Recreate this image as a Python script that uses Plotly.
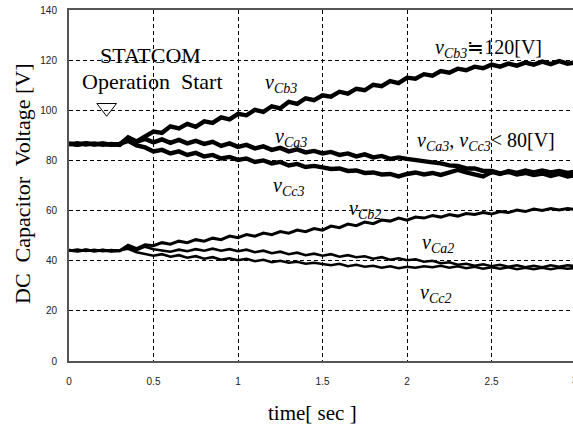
import numpy as np
import plotly.graph_objects as go

# time base [s], 50 ms sampling
time_s = np.round(np.arange(0, 3.0001, 0.05), 2)

# upper (3rd-level) capacitor voltages [V]
v_cb3 = [86.6, 86.2, 86.8, 86.3, 86.7, 86.2, 86.4, 89.2, 87.6, 89.8,
         91.5, 91.0, 93.6, 92.8, 94.6, 93.4, 95.6, 95.0, 97.2, 96.4,
         98.6, 98.0, 100.2, 99.4, 101.6, 100.8, 103.4, 102.6, 104.8, 104.0,
         106.0, 105.4, 107.4, 106.6, 108.6, 108.0, 110.2, 109.6, 111.6, 110.8,
         113.0, 112.6, 114.4, 113.8, 115.6, 115.0, 116.6, 116.0, 117.4, 116.8,
         118.2, 117.4, 118.6, 117.8, 119.0, 118.2, 119.4, 118.4, 119.6, 118.6,
         119.2]
v_ca3 = [86.4, 86.9, 86.3, 86.8, 86.2, 86.6, 86.2, 89.0, 87.4, 88.6,
         87.2, 88.4, 87.0, 88.2, 86.8, 87.8, 86.6, 87.4, 85.8, 86.8,
         85.4, 86.2, 84.8, 85.6, 84.2, 85.0, 83.6, 84.4, 83.2, 83.8,
         82.8, 83.4, 82.2, 82.8, 81.6, 82.4, 81.2, 81.8, 80.6, 81.2,
         80.6, 80.0, 79.8, 79.2, 78.8, 78.0, 77.8, 76.8, 76.8, 75.8,
         75.8, 74.8, 75.4, 74.4, 75.0, 74.2, 74.8, 73.8, 74.6, 73.6,
         74.2]
v_cc3 = [86.8, 86.3, 86.9, 86.4, 86.8, 86.3, 86.6, 87.8, 86.0, 85.2,
         83.6, 84.2, 82.8, 83.6, 82.2, 83.0, 81.6, 82.2, 80.8, 81.4,
         80.2, 80.8, 79.4, 80.0, 78.8, 79.4, 78.0, 78.6, 77.4, 77.8,
         77.2, 76.6, 76.8, 75.8, 76.0, 75.0, 75.2, 74.4, 74.6, 73.6,
         74.6, 75.2, 74.4, 75.0, 74.2, 75.4, 76.2, 75.2, 74.4, 73.6,
         75.4, 74.6, 75.8, 75.0, 76.0, 75.2, 76.0, 75.2, 75.8, 75.0,
         75.6]

# lower (2nd-level) capacitor voltages [V]
v_cb2 = [44.2, 43.8, 44.3, 43.9, 44.2, 43.8, 44.0, 46.2, 44.8, 46.4,
         46.0, 47.2, 46.6, 47.8, 47.2, 48.4, 47.8, 49.0, 48.4, 49.8,
         49.2, 50.4, 49.8, 51.0, 50.4, 51.6, 51.0, 52.2, 51.6, 52.8,
         52.2, 53.8, 53.2, 54.6, 54.0, 55.4, 54.8, 56.2, 55.8, 57.0,
         56.2, 57.4, 57.0, 58.0, 57.4, 58.4, 57.8, 58.8, 58.4, 59.2,
         58.6, 59.6, 59.2, 60.2, 59.6, 60.6, 60.0, 60.8, 60.2, 60.8,
         60.4]
v_ca2 = [44.0, 44.4, 43.9, 44.3, 43.8, 44.2, 43.9, 45.4, 44.2, 45.6,
         44.6, 44.2, 43.6, 44.4, 43.8, 44.6, 44.0, 44.8, 44.0, 44.6,
         43.8, 44.4, 43.4, 44.0, 43.0, 43.6, 42.6, 43.2, 42.2, 42.8,
         42.0, 42.6, 41.6, 42.2, 41.4, 41.8, 40.8, 41.4, 40.4, 41.0,
         40.2, 40.6, 39.6, 40.0, 39.0, 39.4, 38.4, 38.8, 38.0, 38.6,
         37.8, 38.4, 37.6, 38.2, 37.4, 38.0, 37.4, 38.2, 37.6, 38.2,
         37.8]
v_cc2 = [44.3, 43.9, 44.4, 43.8, 44.3, 43.9, 44.2, 44.8, 43.4, 42.8,
         42.0, 42.6, 41.6, 42.2, 41.2, 41.8, 40.8, 41.4, 40.4, 41.0,
         40.2, 40.8, 39.8, 40.4, 39.4, 40.0, 39.2, 39.6, 38.8, 39.2,
         38.6, 38.2, 38.8, 37.8, 38.4, 37.6, 38.0, 37.2, 37.8, 37.0,
         37.6, 37.2, 37.8, 37.4, 38.0, 37.2, 37.8, 37.0, 37.6, 36.8,
         37.4, 36.8, 37.4, 36.6, 37.2, 36.6, 37.2, 36.6, 37.2, 36.8,
         37.2]

x_ticks = [0, 0.5, 1, 1.5, 2, 2.5]
x_tick_text = ["0", "0.5", "1", "1.5", "2", "2.5"]
y_ticks = [0, 20, 40, 60, 80, 100, 120, 140]

# operation start marker
start_t, start_v = 0.223, 101.0

SERIF = "Liberation Serif, Times New Roman, serif"
SANS = "Liberation Sans, Arial, sans-serif"

fig = go.Figure()
for series, lw in [(v_cb3, 4.4), (v_ca3, 4.4), (v_cc3, 4.4),
                   (v_cb2, 3.0), (v_ca2, 2.6), (v_cc2, 2.6)]:
    fig.add_trace(go.Scatter(x=time_s, y=series, mode="lines",
                             line=dict(color="black", width=lw),
                             showlegend=False, hoverinfo="skip"))

fig.add_trace(go.Scatter(x=[start_t], y=[start_v], mode="markers",
                         marker=dict(symbol="triangle-down-open", size=17,
                                     color="black", line=dict(width=1)),
                         showlegend=False, hoverinfo="skip"))

grid_dash = "4px,3px"
fig.update_xaxes(range=[0, 2.982], tickvals=x_ticks, ticktext=x_tick_text,
                 showgrid=True, gridcolor="black", gridwidth=1, griddash=grid_dash,
                 zeroline=False, showline=True, linecolor="#555", linewidth=2,
                 mirror=True, ticks="", ticklabelstandoff=10,
                 tickfont=dict(family=SANS, size=10, color="#222"))
fig.update_yaxes(range=[0, 140], tickvals=y_ticks,
                 showgrid=True, gridcolor="black", gridwidth=1, griddash=grid_dash,
                 zeroline=False, showline=True, linecolor="#555", linewidth=2,
                 ticks="", ticklabelstandoff=8,
                 tickfont=dict(family=SANS, size=10, color="#222"))

ann = []
def txt(x, y, text, size=20, xanchor="left", xref="x", yref="y", angle=0):
    ann.append(dict(x=x, y=y, xref=xref, yref=yref, text=text, showarrow=False,
                    xanchor=xanchor, yanchor="middle", textangle=angle,
                    font=dict(family=SERIF, size=size, color="black")))

txt(0.48, 122.0, "STATCOM", size=22, xanchor="center")
txt(0.495, 111.3, "Operation&nbsp; Start", size=22, xanchor="center")
txt(1.148, 110.5, "<i>v</i><sub><i>Cb3</i></sub>")
txt(1.205, 89.0, "<i>v</i><sub><i>Ca3</i></sub>")
txt(1.193, 69.8, "<i>v</i><sub><i>Cc3</i></sub>")
txt(2.152, 124.8, "<i>v</i><sub><i>Cb3</i></sub>≒120[V]")
txt(2.045, 87.4, "<i>v</i><sub><i>Ca3</i></sub>, <i>v</i><sub><i>Cc3</i></sub>&lt; 80[V]")
txt(1.643, 60.6, "<i>v</i><sub><i>Cb2</i></sub>")
txt(2.075, 46.7, "<i>v</i><sub><i>Ca2</i></sub>")
txt(2.063, 27.1, "<i>v</i><sub><i>Cc2</i></sub>")

# axis titles
txt((312 - 69) / 504, (361 - 413) / 351, "time[ sec ]", size=21,
    xanchor="center", xref="paper", yref="paper")
txt((22 - 69) / 504, (361 - 184) / 351, "DC&nbsp; Capacitor&nbsp; Voltage [V]",
    size=22, xanchor="center", xref="paper", yref="paper", angle=-90)

# last x tick label sits on the right edge of the frame
ann.append(dict(x=1.0, y=(361 - 380) / 351, xref="paper", yref="paper",
                text="3", showarrow=False, xanchor="left", yanchor="middle",
                xshift=-3, font=dict(family=SANS, size=10, color="#222")))

fig.update_layout(width=573, height=425, margin=dict(l=69, r=0, t=10, b=64),
                  plot_bgcolor="white", paper_bgcolor="white", annotations=ann)

fig.write_html("out.html")
